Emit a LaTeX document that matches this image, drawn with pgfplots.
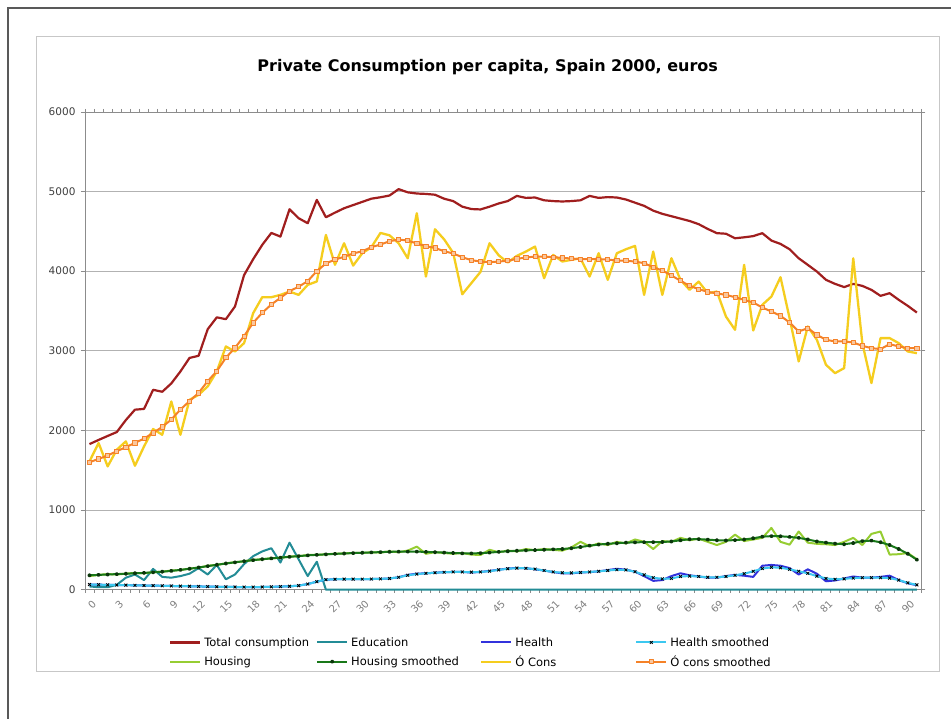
\documentclass[border=0pt]{standalone}
\usepackage{pgfplots}
\usepackage{pgfplotstable}
\pgfplotsset{compat=1.18}
\usepackage{fontspec}
\setmainfont{DejaVu Sans}

\definecolor{cTot}{RGB}{160,30,30}
\definecolor{cEdu}{RGB}{35,140,150}
\definecolor{cHea}{RGB}{50,50,220}
\definecolor{cHeaS}{RGB}{60,200,240}
\definecolor{cHou}{RGB}{150,205,50}
\definecolor{cHouS}{RGB}{25,120,25}
\definecolor{cOC}{RGB}{245,205,30}
\definecolor{cOCS}{RGB}{245,130,40}

% age, total, education, health, health smoothed, housing, housing smoothed, other, other smoothed
\pgfplotstableread{
age tot  edu hea heas hou hous ocons oconss
0   1828 40  65  65   170 180  1611  1600
1   1880 30  62  62   185 185  1841  1642
2   1930 30  60  60   195 190  1548  1684
3   1979 60  58  58   190 195  1757  1739
4   2130 150 56  56   200 200  1862  1789
5   2260 190 54  54   210 205  1556  1843
6   2270 120 52  52   205 210  1799  1897
7   2510 260 50  50   220 217  2017  1968
8   2485 160 48  48   225 225  1945  2044
9   2590 150 46  46   240 235  2363  2136
10  2740 170 44  44   245 248  1945  2262
11  2910 200 42  42   265 262  2384  2367
12  2937 270 40  40   275 278  2447  2471
13  3270 190 38  38   300 295  2552  2618
14  3420 310 36  36   310 312  2740  2744
15  3397 130 34  34   330 328  3054  2912
16  3556 190 33  33   345 343  2991  3037
17  3950 320 32  32   355 357  3096  3184
18  4150 420 32  32   375 370  3472  3351
19  4330 480 33  33   380 382  3673  3477
20  4480 520 35  35   395 392  3673  3581
21  4434 340 38  38   400 402  3702  3665
22  4777 590 42  42   415 412  3744  3749
23  4665 380 50  50   420 421  3702  3804
24  4602 170 70  70   435 430  3828  3875
25  4895 350 100 100  435 437  3870  4000
26  4677 0   125 125  445 443  4455  4096
27  4735 0   130 130  450 449  4080  4146
28  4790 0   132 132  455 454  4350  4180
29  4830 0   132 132  460 459  4070  4222
30  4870 0   132 132  460 463  4225  4250
31  4910 0   133 133  470 467  4300  4301
32  4928 0   135 135  465 471  4480  4334
33  4950 0   140 140  480 475  4450  4376
34  5030 0   155 155  470 477  4350  4397
35  4990 0   185 180  490 478  4162  4384
36  4975 0   200 195  540 477  4727  4347
37  4970 0   205 205  450 474  3932  4313
38  4960 0   212 212  470 470  4526  4292
39  4910 0   220 218  460 465  4400  4250
40  4880 0   222 222  450 460  4230  4222
41  4810 0   222 222  460 456  3710  4175
42  4780 0   215 220  440 455  3850  4138
43  4775 0   222 222  435 458  3990  4121
44  4810 0   235 232  500 465  4350  4112
45  4850 0   250 248  470 474  4200  4121
46  4880 0   265 262  490 482  4108  4130
47  4945 0   272 270  480 488  4192  4155
48  4920 0   270 268  510 493  4246  4171
49  4925 0   255 258  495 497  4309  4184
50  4890 0   240 240  510 501  3911  4184
51  4880 0   220 222  500 505  4204  4175
52  4875 0   205 212  490 510  4121  4167
53  4880 0   205 210  530 520  4142  4159
54  4890 0   215 215  600 535  4162  4150
55  4945 0   220 222  545 552  3932  4150
56  4920 0   230 230  580 566  4225  4150
57  4930 0   245 240  560 576  3891  4146
58  4925 0   262 250  600 583  4225  4133
59  4900 0   250 248  580 590  4275  4130
60  4860 0   225 225  630 594  4317  4121
61  4820 0   170 185  600 596  3702  4100
62  4760 0   110 150  510 597  4246  4050
63  4720 0   120 135  610 598  3702  4008
64  4690 0   170 140  600 605  4162  3946
65  4660 0   205 165  650 620  3891  3879
66  4630 0   180 170  620 632  3765  3816
67  4590 0   165 165  640 634  3869  3774
68  4530 0   150 155  600 628  3723  3740
69  4477 0   150 155  560 620  3744  3720
70  4470 0   170 165  600 617  3430  3702
71  4413 0   185 180  690 622  3263  3673
72  4425 0   175 200  610 630  4079  3640
73  4440 0   160 230  630 645  3255  3606
74  4477 0   300 265  650 665  3577  3543
75  4384 0   310 280  775 672  3681  3493
76  4342 0   300 275  600 670  3924  3439
77  4275 0   270 255  565 662  3409  3355
78  4162 0   190 230  730 650  2866  3242
79  4079 0   255 205  590 630  3305  3284
80  3995 0   200 170  575 605  3138  3200
81  3891 0   105 140  570 590  2824  3138
82  3840 0   115 130  560 578  2719  3117
83  3800 0   140 135  600 570  2782  3117
84  3840 0   165 145  650 585  4162  3104
85  3815 0   150 150  560 610  3096  3062
86  3765 0   150 150  700 615  2594  3033
87  3690 0   160 150  730 595  3159  3021
88  3723 0   175 145  440 560  3159  3083
89  3640 0   120 120  445 510  3096  3054
90  3564 0   80  85   460 450  2991  3033
91  3480 0   55  60   380 376  2970  3033
}\consdata

\begin{document}
\begin{tikzpicture}[x=1bp,y=1bp]
  % page, window edge and chart frame
  \fill[white] (0,0) rectangle (952,719);
  \draw[black!65, line width=1.2bp] (8,0) -- (8,711) -- (952,711);
  \draw[black!22, line width=1bp] (37,47) rectangle (940,682);
  \node[font=\fontsize{16bp}{19bp}\selectfont\bfseries] at (488,652)
    {Private Consumption per capita, Spain 2000, euros};

  \begin{axis}[
    at={(85bp,129bp)}, anchor=south west,
    width=837bp, height=478bp, scale only axis,
    xmin=-0.5, xmax=91.5, ymin=0, ymax=6000,
    clip=false,
    xtick={0,3,...,90},
    minor xtick={-0.5,0.5,...,91.5},
    ytick={0,1000,...,6000},
    ymajorgrids, grid style={black!30, line width=0.8bp},
    axis line style={black!45, line width=0.8bp},
    tick align=outside,
    major tick length=4bp, minor tick length=3bp,
    major x tick style={draw=none},
    minor x tick style={black!45, line width=0.6bp},
    major y tick style={black!45, line width=0.8bp},
    /pgf/number format/assume math mode=true,
    /pgf/number format/1000 sep={},
    yticklabel style={font=\fontsize{10.5bp}{12bp}\selectfont, text=black!75, xshift=-2bp},
    xticklabel style={font=\fontsize{10bp}{12bp}\selectfont, text=black!50,
      rotate=45, anchor=north east, inner sep=0.5bp, xshift=-2bp, yshift=-5bp},
    legend columns=4,
    legend cell align=left,
    legend image code/.code={%
      \draw[mark repeat=2,mark phase=2] plot coordinates {(0bp,0bp) (15bp,0bp) (30bp,0bp)};},
    legend style={at={(axis description cs:0.1004,-0.0995)}, anchor=north west,
      draw=none, fill=none, inner sep=0pt,
      font=\fontsize{11.5bp}{12bp}\selectfont,
      row sep=8bp, nodes={inner sep=0pt},
      /tikz/every even column/.append style={column sep=0pt}},
  ]
    \addplot[cTot, line width=2.2bp, line join=round, no marks] table[x=age, y=tot] {\consdata};
    \addlegendentry{\hspace{3bp}\makebox[112bp][l]{\strut Total consumption}}
    \addplot[cEdu, line width=2bp, line join=round, no marks] table[x=age, y=edu] {\consdata};
    \addlegendentry{\hspace{3bp}\makebox[129bp][l]{\strut Education}}
    \addplot[cHea, line width=2bp, line join=round, no marks] table[x=age, y=hea] {\consdata};
    \addlegendentry{\hspace{3bp}\makebox[120bp][l]{\strut Health}}
    \addplot[cHeaS, line width=2bp, line join=round, mark=x, mark size=2bp,
      mark options={black, line width=0.8bp}] table[x=age, y=heas] {\consdata};
    \addlegendentry{\hspace{3bp}\makebox[110bp][l]{\strut Health smoothed}}
    \addplot[cHou, line width=2bp, line join=round, no marks] table[x=age, y=hou] {\consdata};
    \addlegendentry{\hspace{3bp}\makebox[112bp][l]{\strut Housing}}
    \addplot[cHouS, line width=2bp, line join=round, mark=*, mark size=1.1bp,
      mark options={fill=black!55!cHouS, draw=black!55!cHouS}] table[x=age, y=hous] {\consdata};
    \addlegendentry{\hspace{3bp}\makebox[129bp][l]{\strut Housing smoothed}}
    \addplot[cOC, line width=2.3bp, line join=round, no marks] table[x=age, y=ocons] {\consdata};
    \addlegendentry{\hspace{3bp}\makebox[120bp][l]{\strut Ó Cons}}
    \addplot[cOCS, line width=2bp, line join=round, mark=square*, mark size=2.1bp,
      mark options={fill=cOCS!45!white, draw=cOCS, line width=0.8bp}] table[x=age, y=oconss] {\consdata};
    \addlegendentry{\hspace{3bp}\makebox[110bp][l]{\strut Ó cons smoothed}}
  \end{axis}
\end{tikzpicture}
\end{document}
